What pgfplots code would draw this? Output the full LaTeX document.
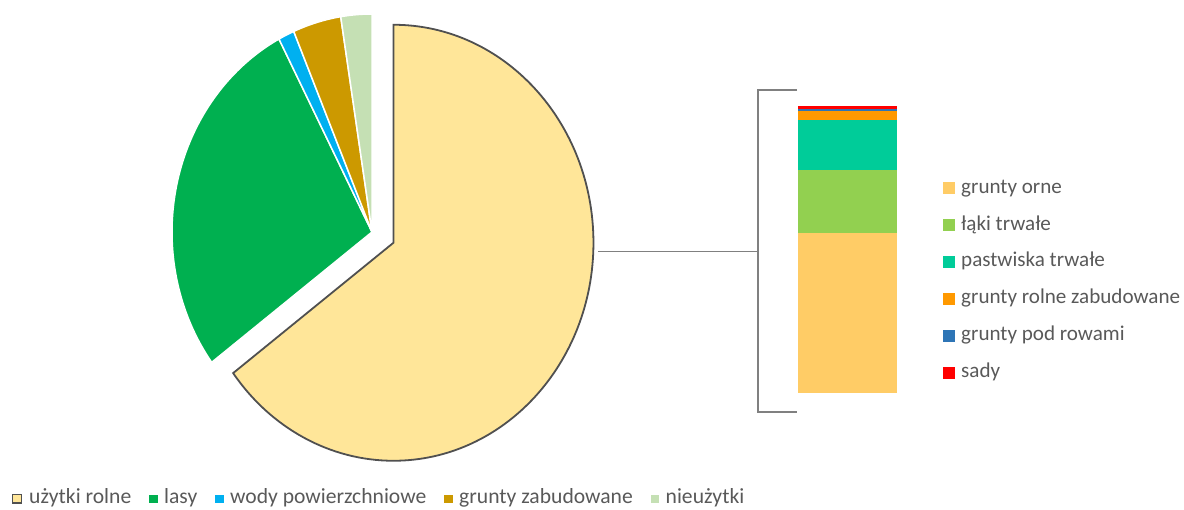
\documentclass[border=0pt]{standalone}
\usepackage{fontspec}
\setmainfont{Carlito}
\usepackage{pgfplots}
\usepackage{pgfplotstable}
\pgfplotsset{compat=1.18}

\definecolor{cUz}{HTML}{FFE699}
\definecolor{cLasy}{HTML}{00B050}
\definecolor{cWody}{HTML}{00B0F0}
\definecolor{cZab}{HTML}{CC9900}
\definecolor{cNieuz}{HTML}{C5E0B4}
\definecolor{cOrne}{HTML}{FFCC66}
\definecolor{cLaki}{HTML}{92D050}
\definecolor{cPast}{HTML}{00CC99}
\definecolor{cRolZab}{HTML}{FF9900}
\definecolor{cRow}{HTML}{2E75B6}
\definecolor{cSady}{HTML}{FF0000}
\definecolor{txt}{HTML}{595959}
\definecolor{lin}{HTML}{808080}
\definecolor{brd}{HTML}{505050}

\pgfplotstableread{
name value
uzytki 64.8
lasy 27.5
wody 1.3
zabud 3.9
nieuz 2.5
}\piedata

\pgfplotstableread{
x orne laki past rolzab rowami sady
0 55.8 22.0 17.4 3.2 0.7 0.9
}\bardata

% cumulative angles (clockwise from 12 o'clock)
\pgfplotstablegetelem{0}{value}\of\piedata
\pgfmathsetmacro\aA{90-3.6*\pgfplotsretval}
\pgfplotstablegetelem{1}{value}\of\piedata
\pgfmathsetmacro\aB{\aA-3.6*\pgfplotsretval}
\pgfplotstablegetelem{2}{value}\of\piedata
\pgfmathsetmacro\aC{\aB-3.6*\pgfplotsretval}
\pgfplotstablegetelem{3}{value}\of\piedata
\pgfmathsetmacro\aD{\aC-3.6*\pgfplotsretval}
\pgfplotstablegetelem{4}{value}\of\piedata
\pgfmathsetmacro\aE{\aD-3.6*\pgfplotsretval}
\pgfmathsetmacro\aMid{(90+\aA)/2}
\def\cx{372}
\def\cy{277}
\pgfmathsetmacro\cxE{\cx+24*cos(\aMid)}
\pgfmathsetmacro\cyE{\cy+24*sin(\aMid)}

\begin{document}
\begin{tikzpicture}
\useasboundingbox (0,0) rectangle (1184pt,509pt);
\begin{axis}[
  at={(0pt,0pt)}, anchor=south west,
  x=1pt, y=1pt,
  xmin=0, xmax=1184, ymin=0, ymax=509,
  hide axis, clip=false,
  legend columns=5,
  legend style={
    at={(axis description cs:0.0101,0.0206)}, anchor=west,
    draw=none, fill=none, inner sep=0pt,
    font=\fontsize{21.6}{25}\selectfont, text=txt,
    nodes={inner sep=0pt, text height=10pt, text depth=0pt},
    /tikz/every odd column/.append style={column sep=7pt},
    /tikz/every even column/.append style={column sep=18pt},
  },
  legend cell align=left,
]
% main pie slices
\fill[cLasy, draw=white, line width=1.5pt] (axis cs:\cx,\cy) -- ++(\aA:200pt and 218pt)
   arc[start angle=\aA, end angle=\aB, x radius=200pt, y radius=218pt] -- cycle;
\fill[cWody, draw=white, line width=1.5pt] (axis cs:\cx,\cy) -- ++(\aB:200pt and 218pt)
   arc[start angle=\aB, end angle=\aC, x radius=200pt, y radius=218pt] -- cycle;
\fill[cZab, draw=white, line width=1.5pt] (axis cs:\cx,\cy) -- ++(\aC:200pt and 218pt)
   arc[start angle=\aC, end angle=\aD, x radius=200pt, y radius=218pt] -- cycle;
\fill[cNieuz, draw=white, line width=1.5pt] (axis cs:\cx,\cy) -- ++(\aD:200pt and 218pt)
   arc[start angle=\aD, end angle=\aE, x radius=200pt, y radius=218pt] -- cycle;
% exploded slice
\filldraw[fill=cUz, draw=brd, line width=1.8pt, line join=miter] (axis cs:\cxE,\cyE) -- ++(90:200pt and 218pt)
   arc[start angle=90, end angle=\aA, x radius=200pt, y radius=218pt] -- cycle;
% connector + bracket
\draw[lin, line width=1.3pt] (axis cs:598,257.3) -- (axis cs:758,257.3);
\draw[lin, line width=1.3pt] (axis cs:797,419) -- (axis cs:758,419) -- (axis cs:758,97) -- (axis cs:797,97);

\addlegendimage{legend image code/.code={\filldraw[fill=cUz, draw=brd, line width=1.2pt] (0.6pt,-4.4pt) rectangle (9.4pt,4.4pt);}}
\addlegendentry{użytki rolne}
\addlegendimage{legend image code/.code={\fill[cLasy] (0pt,-3.7pt) rectangle (7.5pt,3.7pt);}}
\addlegendentry{lasy}
\addlegendimage{legend image code/.code={\fill[cWody] (0pt,-3.7pt) rectangle (7.5pt,3.7pt);}}
\addlegendentry{wody powierzchniowe}
\addlegendimage{legend image code/.code={\fill[cZab] (0pt,-3.7pt) rectangle (7.5pt,3.7pt);}}
\addlegendentry{grunty zabudowane}
\addlegendimage{legend image code/.code={\fill[cNieuz] (0pt,-3.7pt) rectangle (7.5pt,3.7pt);}}
\addlegendentry{nieużytki}
\end{axis}

\begin{axis}[
  at={(798pt,115.7pt)}, anchor=south west,
  scale only axis, width=99pt, height=287.3pt,
  xmin=-0.5, xmax=0.5, ymin=0, ymax=100,
  hide axis, clip=false,
  ybar stacked, bar width=99pt,
  legend cell align=left,
  legend image code/.code={\fill[#1,draw=none] (0pt,-6pt) rectangle (12pt,6pt);},
  legend style={
    at={(axis description cs:1.4646,0.393)}, anchor=west,
    draw=none, fill=none, inner sep=0pt,
    font=\fontsize{21.1}{25}\selectfont, text=txt,
    row sep=24.9pt,
    nodes={inner sep=0pt, text height=10pt, text depth=0pt},
    /tikz/every odd column/.append style={column sep=6pt},
  },
]
\addplot[fill=cOrne, draw=none] table[x=x, y=orne]{\bardata};
\addlegendentry{grunty orne}
\addplot[fill=cLaki, draw=none] table[x=x, y=laki]{\bardata};
\addlegendentry{łąki trwałe}
\addplot[fill=cPast, draw=none] table[x=x, y=past]{\bardata};
\addlegendentry{pastwiska trwałe}
\addplot[fill=cRolZab, draw=none] table[x=x, y=rolzab]{\bardata};
\addlegendentry{grunty rolne zabudowane}
\addplot[fill=cRow, draw=none] table[x=x, y=rowami]{\bardata};
\addlegendentry{grunty pod rowami}
\addplot[fill=cSady, draw=none] table[x=x, y=sady]{\bardata};
\addlegendentry{sady}
\end{axis}
\end{tikzpicture}
\end{document}
